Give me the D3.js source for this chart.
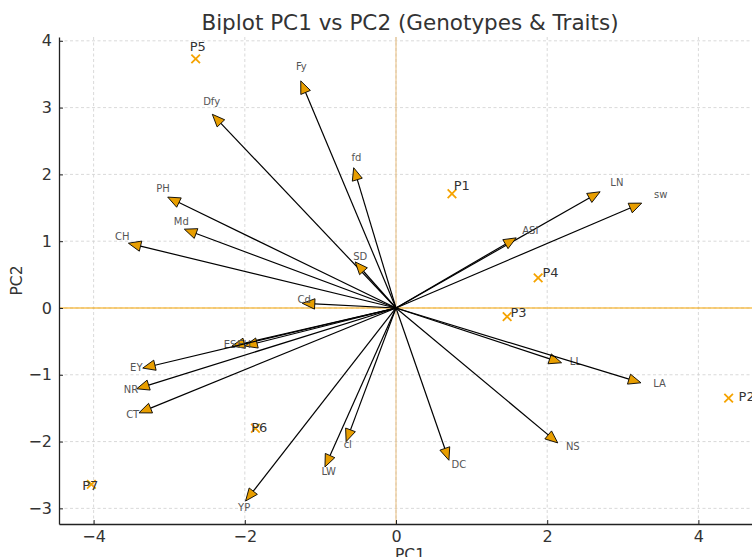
<!DOCTYPE html>
<html>
<head>
<meta charset="utf-8">
<script src="https://cdn.jsdelivr.net/npm/d3@7"></script>
<style>
  body { margin: 0; background: #fff; }
  svg { font-family: "DejaVu Sans", sans-serif; display: block; }
</style>
</head>
<body>
<div id="chart"></div>
<script>
// trait loadings (arrow tips)
var traits = ["Fy","Dfy","fd","PH","Md","CH","SD","Cd","ES","EH","EY","NR","CT","YP","LW","cl","DC","NS","LL","LA","sw","LN","ASI"];
var traitPC1 = [-1.26,-2.43,-0.56,-3.02,-2.80,-3.54,-0.54,-1.24,-2.17,-2.00,-3.35,-3.43,-3.40,-1.99,-0.94,-0.66,0.70,2.14,2.19,3.24,3.25,2.70,1.59];
var traitPC2 = [3.40,2.90,2.10,1.66,1.18,0.97,0.69,0.07,-0.57,-0.57,-0.90,-1.21,-1.57,-2.89,-2.38,-2.00,-2.28,-2.02,-0.82,-1.12,1.57,1.74,1.05];

// genotype scores
var genotypes = ["P1","P2","P3","P4","P5","P6","P7"];
var genoPC1 = [0.74,4.40,1.47,1.88,-2.65,-1.86,-4.03];
var genoPC2 = [1.71,-1.35,-0.13,0.45,3.73,-1.80,-2.64];

var xTicks = [-4,-2,0,2,4];
var yTicks = [-3,-2,-1,0,1,2,3,4];

var W = 752, H = 557;
var mLeft = 59, mRight = 761, mTop = 37, mBottom = 524;
var orange = "#f5a300";

var svg = d3.select("#chart").append("svg").attr("width", W).attr("height", H);

var x = d3.scaleLinear().domain([-4.458, 4.828]).range([mLeft, mRight]);
var y = d3.scaleLinear().domain([-3.234, 4.057]).range([mBottom, mTop]);

svg.append("clipPath").attr("id", "plotclip")
  .append("rect").attr("x", mLeft).attr("y", mTop).attr("width", mRight - mLeft).attr("height", mBottom - mTop);

// grid
var grid = svg.append("g").attr("stroke", "#cfcfcf").attr("stroke-width", 0.8).attr("stroke-dasharray", "3,2.5");
grid.selectAll(".gx").data(xTicks).enter().append("line")
  .attr("x1", d => x(d)).attr("x2", d => x(d)).attr("y1", mTop).attr("y2", mBottom);
grid.selectAll(".gy").data(yTicks).enter().append("line")
  .attr("x1", mLeft).attr("x2", mRight).attr("y1", d => y(d)).attr("y2", d => y(d));

// reference lines
svg.append("line").attr("x1", mLeft).attr("x2", mRight).attr("y1", y(0)).attr("y2", y(0))
  .attr("stroke", orange).attr("stroke-width", 1.1);
svg.append("line").attr("x1", x(0)).attr("x2", x(0)).attr("y1", mTop).attr("y2", mBottom)
  .attr("stroke", "#e6b66e").attr("stroke-width", 0.9);

var plot = svg.append("g").attr("clip-path", "url(#plotclip)");

// arrows
var headLen = 12.5, headHalf = 5.2;
traits.forEach(function (t, i) {
  var x0 = x(0), y0 = y(0), x1 = x(traitPC1[i]), y1 = y(traitPC2[i]);
  var dx = x1 - x0, dy = y1 - y0, len = Math.sqrt(dx * dx + dy * dy);
  var ux = dx / len, uy = dy / len;
  var bx = x1 - ux * headLen, by = y1 - uy * headLen;
  plot.append("line").attr("x1", x0).attr("y1", y0).attr("x2", bx).attr("y2", by)
    .attr("stroke", "#000").attr("stroke-width", 1.2);
  var pts = [[x1, y1], [bx - uy * headHalf, by + ux * headHalf], [bx + uy * headHalf, by - ux * headHalf]];
  plot.append("polygon").attr("points", pts.map(p => p.join(",")).join(" "))
    .attr("fill", "#e89e00").attr("stroke", "#000").attr("stroke-width", 0.9);
  plot.append("text").attr("x", x(traitPC1[i] * 1.05)).attr("y", y(traitPC2[i] * 1.05))
    .attr("font-size", 10).attr("fill", "#555").text(t);
});

// genotypes
genotypes.forEach(function (g, i) {
  var cx = x(genoPC1[i]), cy = y(genoPC2[i]), s = 4.3;
  plot.append("path").attr("d", "M" + (cx - s) + "," + (cy - s) + "L" + (cx + s) + "," + (cy + s) +
      "M" + (cx - s) + "," + (cy + s) + "L" + (cx + s) + "," + (cy - s))
    .attr("stroke", orange).attr("stroke-width", 1.8);
  plot.append("text").attr("x", x(genoPC1[i] * 1.03)).attr("y", y(genoPC2[i] * 1.03))
    .attr("font-size", 13).attr("fill", "#333").text(g);
});

// axes
var fmt = d => d < 0 ? "\u2212" + Math.abs(d) : String(d);
var xAxis = d3.axisBottom(x).tickValues(xTicks).tickSizeInner(-4).tickSizeOuter(0).tickPadding(7).tickFormat(fmt);
var yAxis = d3.axisLeft(y).tickValues(yTicks).tickSizeInner(-4).tickSizeOuter(0).tickPadding(7).tickFormat(fmt);

var gx = svg.append("g").attr("transform", "translate(0," + mBottom + ")").call(xAxis);
var gy = svg.append("g").attr("transform", "translate(" + mLeft + ",0)").call(yAxis);
[gx, gy].forEach(function (g) {
  g.attr("font-size", 16).attr("font-family", "DejaVu Sans");
  g.select(".domain").attr("stroke", "#222").attr("stroke-width", 1.3);
  g.selectAll(".tick line").attr("stroke", "#222").attr("stroke-width", 1);
  g.selectAll(".tick text").attr("fill", "#333");
});

svg.append("text").attr("x", (mLeft + mRight) / 2).attr("y", 30).attr("text-anchor", "middle")
  .attr("font-size", 21.5).attr("fill", "#333").text("Biplot PC1 vs PC2 (Genotypes & Traits)");
svg.append("text").attr("x", (mLeft + mRight) / 2).attr("y", 560).attr("text-anchor", "middle")
  .attr("font-size", 15.5).attr("fill", "#333").text("PC1");
svg.append("text").attr("transform", "translate(22," + ((mTop + mBottom) / 2) + ") rotate(-90)")
  .attr("text-anchor", "middle").attr("font-size", 15.5).attr("fill", "#333").text("PC2");
</script>
</body>
</html>
